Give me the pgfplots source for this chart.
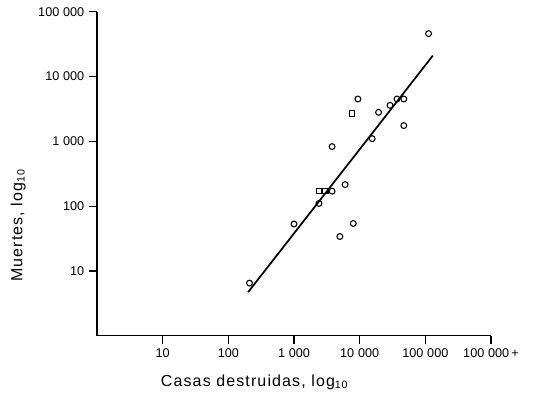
\documentclass[border=0pt]{standalone}
\usepackage{fontspec}
\setmainfont{Liberation Sans}
\usepackage{pgfplots}
\pgfplotsset{compat=1.18}
\newcommand{\gs}{\hspace{0.3em}}
\begin{document}
\begin{tikzpicture}
\useasboundingbox (-72.75pt,-43pt) rectangle (329.25pt,251.8pt);
\begin{axis}[
  scale only axis, width=295.5pt, height=243pt,
  xmode=log, ymode=log,
  xmin=1, xmax=1000000, ymin=1, ymax=100000,
  axis x line*=bottom, axis y line*=left,
  axis line style={line width=0.9pt},
  xtick={10,100,1000,10000,100000,1000000},
  xticklabels={10,100,1\gs000,10\gs000,100\gs000,100\gs000\,+},
  ytick={10,100,1000,10000,100000},
  yticklabels={10,100,1\gs000,10\gs000,100\gs000},
  minor tick num=0, xminorticks=false, yminorticks=false,
  tick align=outside, major tick length=6pt,
  tick style={line width=0.9pt, black},
  ticklabel style={font=\fontsize{9.5}{11}\selectfont},
  label style={font=\fontsize{12}{14}\selectfont\addfontfeature{LetterSpace=7}},
  xlabel={Casas destruidas, log\textsubscript{10}},
  ylabel={Muertes, log\textsubscript{10}},
  xlabel style={at={(axis description cs:0.4,-0.143)}, anchor=center},
  ylabel style={at={(axis description cs:-0.20,0.34)}, anchor=center, rotate=0},
  clip=false,
]
\addplot[black, line width=1.3pt] coordinates {(200,4.7) (130000,21000)};
\addplot[only marks, mark=o, mark size=2.2pt, mark options={line width=0.8pt}] coordinates {
 (112000,46000) (9400,4500) (19400,2800) (29000,3600) (37000,4500) (47000,4500)
 (47000,1750) (15500,1100) (3800,830) (6000,215) (3800,170) (2400,110)
 (1000,53) (8000,54) (5000,34) (210,6.5)
};
\addplot[only marks, mark=square, mark size=2.0pt, mark options={line width=0.8pt}] coordinates {
 (7600,2700) (2400,170) (3000,172)
};
\end{axis}
\end{tikzpicture}
\end{document}
